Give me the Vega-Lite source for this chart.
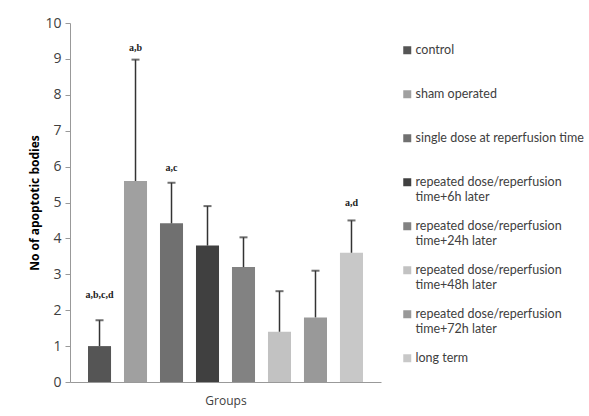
{
  "$schema": "https://vega.github.io/schema/vega-lite/v6.json",
  "width": 311,
  "height": 359,
  "autosize": "none",
  "padding": {"left": 70, "top": 23, "right": 208, "bottom": 34},
  "background": "white",
  "config": {
    "view": {"stroke": null},
    "font": "Open Sans"
  },
  "data": {
    "values": [
      {"group": "control", "value": 1.0, "upper": 1.72, "label": "a,b,c,d", "labelPos": 2.42},
      {"group": "sham operated", "value": 5.6, "upper": 8.98, "label": "a,b", "labelPos": 9.3},
      {"group": "single dose at reperfusion time", "value": 4.42, "upper": 5.55, "label": "a,c", "labelPos": 5.96},
      {"group": "repeated dose/reperfusion time+6h later", "value": 3.8, "upper": 4.9, "label": "", "labelPos": null},
      {"group": "repeated dose/reperfusion time+24h later", "value": 3.2, "upper": 4.03, "label": "", "labelPos": null},
      {"group": "repeated dose/reperfusion time+48h later", "value": 1.4, "upper": 2.53, "label": "", "labelPos": null},
      {"group": "repeated dose/reperfusion time+72h later", "value": 1.8, "upper": 3.1, "label": "", "labelPos": null},
      {"group": "long term", "value": 3.6, "upper": 4.5, "label": "a,d", "labelPos": 4.98}
    ]
  },
  "encoding": {
    "x": {
      "field": "group",
      "type": "nominal",
      "sort": null,
      "scale": {"paddingInner": 0.36, "paddingOuter": 0.5},
      "axis": {
        "title": "Groups",
        "labels": false,
        "ticks": false,
        "domainColor": "#999999",
        "titleFont": "Open Sans",
        "titleFontSize": 12,
        "titleFontWeight": "normal",
        "titleColor": "#404040",
        "titlePadding": 13
      }
    }
  },
  "layer": [
    {
      "mark": {"type": "bar"},
      "encoding": {
        "y": {
          "field": "value",
          "type": "quantitative",
          "scale": {"domain": [0, 10], "nice": false},
          "axis": {
            "title": "No of apoptotic bodies",
            "values": [0, 1, 2, 3, 4, 5, 6, 7, 8, 9, 10],
            "labelOverlap": false,
            "grid": false,
            "domainColor": "#999999",
            "tickColor": "#999999",
            "tickSize": 5,
            "labelFontSize": 14,
            "labelColor": "#404040",
            "labelPadding": 4,
            "titleFontSize": 12,
            "titleFontWeight": "bold",
            "titleColor": "#000000",
            "titlePadding": 3
          }
        },
        "color": {
          "field": "group",
          "type": "nominal",
          "sort": null,
          "scale": {
            "domain": [
              "control",
              "sham operated",
              "single dose at reperfusion time",
              "repeated dose/reperfusion time+6h later",
              "repeated dose/reperfusion time+24h later",
              "repeated dose/reperfusion time+48h later",
              "repeated dose/reperfusion time+72h later",
              "long term"
            ],
            "range": ["#555555", "#a0a0a0", "#707070", "#404040", "#828282", "#c2c2c2", "#999999", "#c8c8c8"]
          },
          "legend": {
            "title": null,
            "orient": "none",
            "legendX": 331,
            "legendY": 21,
            "symbolType": "square",
            "symbolSize": 64,
            "symbolStrokeWidth": 0,
            "labelFont": "Lato",
            "labelFontSize": 12.5,
            "labelColor": "#404040",
            "labelLimit": 300,
            "labelBaseline": "middle",
            "labelLineHeight": 17.5,
            "rowPadding": 16,
            "labelOffset": 2,
            "labelExpr": "indexof(datum.label, 'repeated') == 0 ? ['repeated dose/reperfusion', substring(datum.label, 26)] : [datum.label, '']"
          }
        }
      }
    },
    {
      "mark": {"type": "rule", "color": "#333333", "strokeWidth": 1.5},
      "encoding": {
        "y": {
          "field": "value",
          "type": "quantitative",
          "axis": {
            "title": "No of apoptotic bodies",
            "values": [0, 1, 2, 3, 4, 5, 6, 7, 8, 9, 10],
            "labelOverlap": false,
            "grid": false,
            "domainColor": "#999999",
            "tickColor": "#999999",
            "tickSize": 5,
            "labelFontSize": 14,
            "labelColor": "#404040",
            "labelPadding": 4,
            "titleFontSize": 12,
            "titleFontWeight": "bold",
            "titleColor": "#000000",
            "titlePadding": 3
          }
        },
        "y2": {"field": "upper"}
      }
    },
    {
      "mark": {"type": "tick", "color": "#333333", "thickness": 2, "size": 8, "orient": "horizontal"},
      "encoding": {
        "y": {
          "field": "upper",
          "type": "quantitative",
          "axis": {
            "title": "No of apoptotic bodies",
            "values": [0, 1, 2, 3, 4, 5, 6, 7, 8, 9, 10],
            "labelOverlap": false,
            "grid": false,
            "domainColor": "#999999",
            "tickColor": "#999999",
            "tickSize": 5,
            "labelFontSize": 14,
            "labelColor": "#404040",
            "labelPadding": 4,
            "titleFontSize": 12,
            "titleFontWeight": "bold",
            "titleColor": "#000000",
            "titlePadding": 3
          }
        }
      }
    },
    {
      "transform": [{"filter": "datum.label != ''"}],
      "mark": {"type": "text", "font": "Liberation Serif", "fontWeight": "bold", "fontSize": 10, "color": "#222222"},
      "encoding": {
        "y": {
          "field": "labelPos",
          "type": "quantitative",
          "axis": {
            "title": "No of apoptotic bodies",
            "values": [0, 1, 2, 3, 4, 5, 6, 7, 8, 9, 10],
            "labelOverlap": false,
            "grid": false,
            "domainColor": "#999999",
            "tickColor": "#999999",
            "tickSize": 5,
            "labelFontSize": 14,
            "labelColor": "#404040",
            "labelPadding": 4,
            "titleFontSize": 12,
            "titleFontWeight": "bold",
            "titleColor": "#000000",
            "titlePadding": 3
          }
        },
        "text": {"field": "label"}
      }
    }
  ]
}
